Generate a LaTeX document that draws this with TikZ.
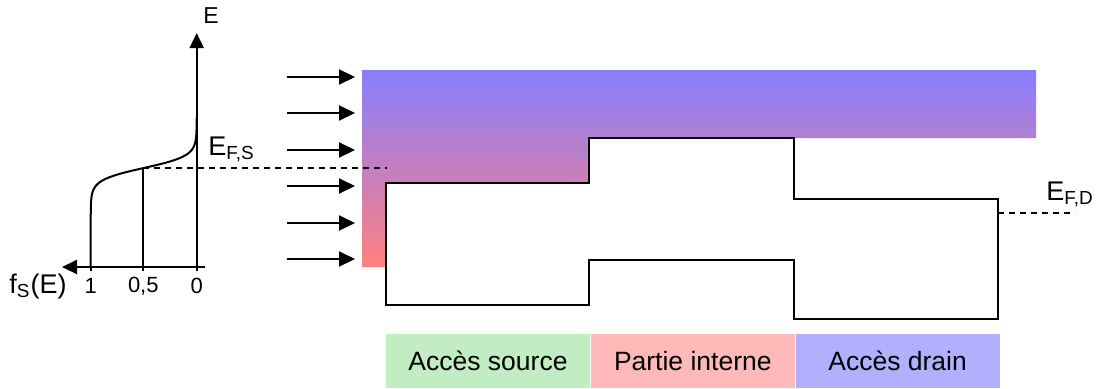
\documentclass[tikz,border=0pt]{standalone}
\usepackage{fontspec}
\setmainfont{Liberation Sans}
\usetikzlibrary{arrows.meta,positioning}

\definecolor{topblue}{RGB}{136,126,255}
\definecolor{midpink}{RGB}{222,128,228}
\definecolor{lowred}{RGB}{255,128,128}
\definecolor{srcgreen}{RGB}{194,236,194}
\definecolor{intpink}{RGB}{255,185,185}
\definecolor{drnblue}{RGB}{176,176,255}

\begin{document}
\begin{tikzpicture}[x=0.5pt, y=-0.5pt,
    band/.style={line width=1pt, line join=miter},
    axis/.style={line width=1pt, -{Triangle[length=7.5pt,width=7pt]}},
    inject/.style={line width=1pt, -{Triangle[length=8pt,width=7.5pt]}},
    level/.style={line width=1pt, dash pattern=on 3pt off 2.5pt},
    ticklbl/.style={font=\fontsize{11}{13}\selectfont, inner sep=0pt},
    lbl/.style={font=\fontsize{13.5}{16}\selectfont, inner sep=0pt},
    region/.style={minimum width=102pt, minimum height=27pt, inner sep=0pt,
                   font=\fontsize{13.25}{16}\selectfont}]
    \useasboundingbox (0,0) rectangle (1096,388);

    % Electrons supplied by the source: graded fill above the band edge
    \shade[top color=topblue, middle color=midpink, bottom color=lowred]
        (362,70) -- (1036,70) -- (1036,138) -- (589,138) -- (589,183)
        -- (386,183) -- (386,267) -- (362,267) -- cycle;

    % Conduction band profile along the channel
    \draw[band] (386,305) -- (386,183) -- (589,183) -- (589,138) -- (794,138)
        -- (794,199) -- (998,199) -- (998,319) -- (794,319) -- (794,260)
        -- (589,260) -- (589,305) -- cycle;

    % Injected electrons
    \foreach \y [count=\i] in {77,113,150,186,223,259} {
        \coordinate (inj\i) at (287,\y);
        \coordinate (hit\i) at (355,\y);
        \draw[inject] (inj\i) -- (hit\i);
    }

    % Occupation function of the source
    \coordinate (zero) at (196.7,267);
    \coordinate (etop) at (196.7,33);
    \coordinate (fend) at (62,267);
    \draw[axis] (196.7,271) -- (etop);
    \draw[axis] (205,267) -- (fend);
    \foreach \x in {90.7,143.3} \draw[line width=1pt] (\x,267) -- (\x,271);
    % Fermi-Dirac curve, kT = 6 units
    \draw[line width=1pt] (90.7,267) -- plot[domain=-50:50, samples=121, smooth]
        ({196.7-106/(1+exp(\x/6))}, {168-\x});
    \coordinate (half) at (143.3,168);
    \draw[line width=1pt] (half) -- (143.3,267);

    \node[ticklbl] (one)  at (90.7,286)  {1};
    \node[ticklbl] (mid)  at (143.3,286) {0,5};
    \node[ticklbl] (nul)  at (196.7,286) {0};
    \node[lbl] (fs)   at (38,286) {f\textsubscript{S}(E)};
    \node[lbl, font=\fontsize{11.5}{14}\selectfont] (E) at (211,16) {E};

    % Fermi levels
    \coordinate (efs) at (387,168);
    \draw[level] (half) -- (efs);
    \node[lbl, anchor=base west] (efslbl) at (208,155) {E\textsubscript{F,S}};
    \coordinate (efd0) at (998,213);
    \coordinate (efd1) at (1075,213);
    \draw[level] (efd0) -- (efd1);
    \node[lbl, anchor=base west] (efdlbl) at (1046,200) {E\textsubscript{F,D}};

    % Regions of the device
    \node[region, fill=srcgreen] (source) at (488,361) {Accès source};
    \node[region, fill=intpink, right=0pt of source] (interne) {Partie interne};
    \node[region, fill=drnblue, right=0pt of interne] (drain) {Accès drain};
\end{tikzpicture}
\end{document}
